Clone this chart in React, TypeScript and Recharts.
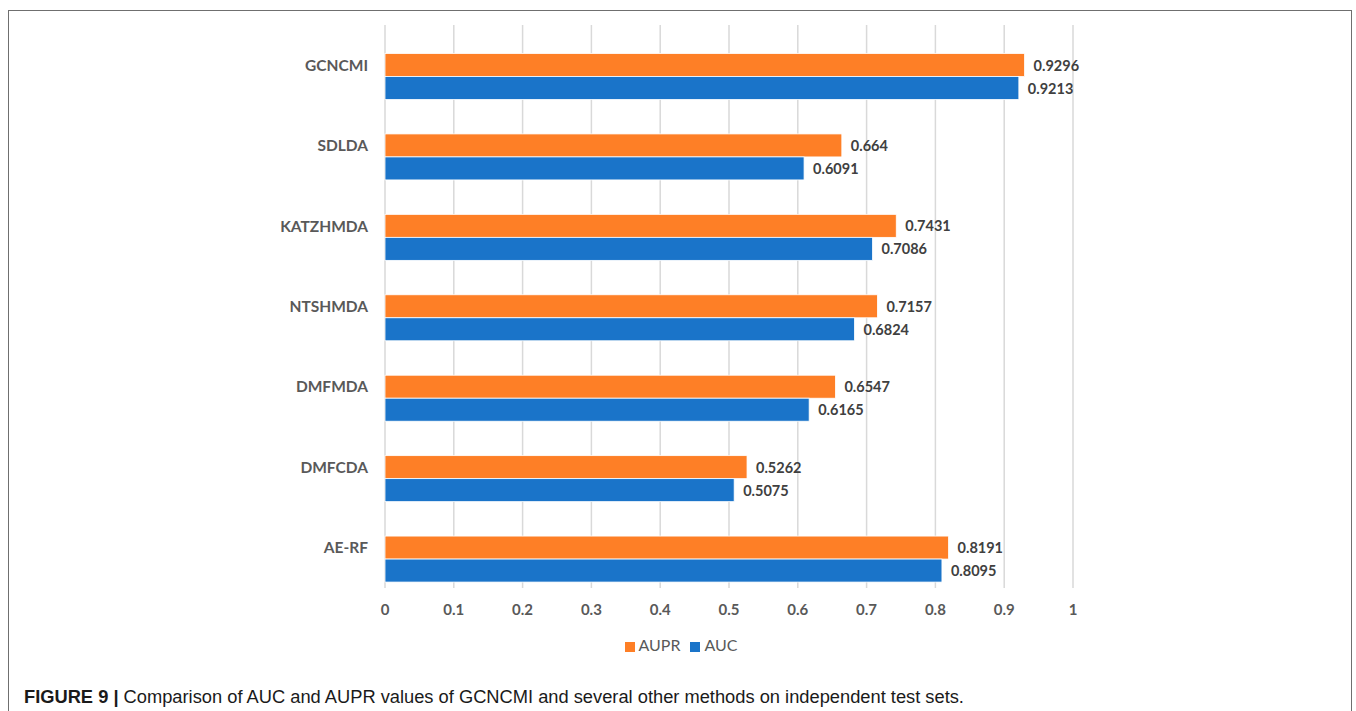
import { BarChart, Bar, XAxis, YAxis, CartesianGrid, Legend } from "recharts";

const methods = ["GCNCMI", "SDLDA", "KATZHMDA", "NTSHMDA", "DMFMDA", "DMFCDA", "AE-RF"];
const auprValues = [0.9296, 0.664, 0.7431, 0.7157, 0.6547, 0.5262, 0.8191];
const aucValues = [0.9213, 0.6091, 0.7086, 0.6824, 0.6165, 0.5075, 0.8095];
const xTicks = [0, 0.1, 0.2, 0.3, 0.4, 0.5, 0.6, 0.7, 0.8, 0.9, 1];
const legendOrder = ["AUPR", "AUC"];

const ORANGE = "#FE7F26";
const BLUE = "#1A74C9";
const FONT = "Lato, 'Open Sans', sans-serif";

const data = methods.map((m, i) => ({ name: m, AUPR: auprValues[i], AUC: aucValues[i] }));

// excel draws the pair pushed down half a bar, label lines up with the orange one
const ShiftedBar = (props: any) => {
  const { x, y, width, height, fill } = props;
  if (!width || width <= 0) return null;
  return <rect x={x} y={y + height / 2} width={width} height={height} fill={fill} stroke="#fff" strokeWidth={0.8} />;
};

const valueLabel = (p: any) => {
  const x = p.x ?? p.viewBox?.x;
  const y = p.y ?? p.viewBox?.y;
  const w = p.width ?? p.viewBox?.width;
  const h = p.height ?? p.viewBox?.height;
  return (
    <text
      x={x + w + 9}
      y={y + h}
      dominantBaseline="central"
      fill="#404040"
      fontSize={14.5}
      fontWeight={700}
      fontFamily={FONT}
    >
      {String(p.value)}
    </text>
  );
};

export default function App() {
  return (
    <div style={{ position: "absolute", left: 0, top: 0, width: 1356, height: 711, background: "#fff", overflow: "hidden" }}>
      <div
        style={{
          position: "absolute",
          left: 8,
          top: 10,
          width: 1344,
          height: 720,
          border: "1.5px solid #6f6f6f",
          boxSizing: "border-box",
        }}
      />
      <div style={{ position: "absolute", left: 0, top: 0 }}>
        <BarChart
          width={1356}
          height={690}
          data={data}
          layout="vertical"
          margin={{ top: 25, right: 283, bottom: 0, left: 0 }}
          barGap={0}
          barSize={23}
        >
          <CartesianGrid horizontal={false} stroke="#d9d9d9" strokeWidth={1.5} />
          <XAxis
            type="number"
            domain={[0, 1]}
            ticks={xTicks}
            axisLine={false}
            tickLine={false}
            tickSize={0}
            tickMargin={16}
            height={83}
            tick={{ fill: "#595959", fontSize: 15, fontWeight: 700, fontFamily: FONT }}
          />
          <YAxis
            type="category"
            dataKey="name"
            width={385}
            axisLine={false}
            tickLine={false}
            tickSize={0}
            tickMargin={17}
            tick={{ fill: "#595959", fontSize: 15.5, fontWeight: 700, fontFamily: FONT }}
          />
          <Legend
            verticalAlign="bottom"
            iconType="square"
            iconSize={10}
            itemSorter={(item: any) => legendOrder.indexOf(item.value)}
            wrapperStyle={{ top: 635, left: 0, width: 1372, fontFamily: FONT, fontSize: 16 }}
            formatter={(v: any) => <span style={{ color: "#595959" }}>{v}</span>}
          />
          <Bar dataKey="AUPR" name="AUPR" fill={ORANGE} shape={ShiftedBar} label={valueLabel} isAnimationActive={false} />
          <Bar dataKey="AUC" name="AUC" fill={BLUE} shape={ShiftedBar} label={valueLabel} isAnimationActive={false} />
        </BarChart>
      </div>
      <div
        style={{
          position: "absolute",
          left: 24,
          top: 686,
          fontFamily: "'Liberation Sans', Arial, sans-serif",
          fontSize: 18.3,
          color: "#1a1a1a",
          whiteSpace: "nowrap",
        }}
      >
        <b>FIGURE 9 |</b> Comparison of AUC and AUPR values of GCNCMI and several other methods on independent test sets.
      </div>
    </div>
  );
}
